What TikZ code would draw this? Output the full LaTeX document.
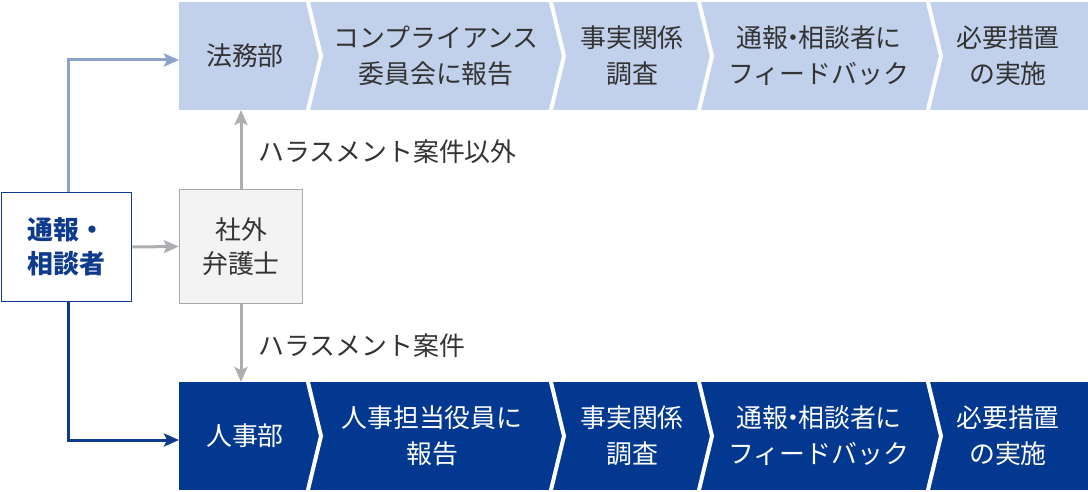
\documentclass[tikz,border=0pt]{standalone}
\usepackage{fontspec}
\setmainfont{Noto Sans CJK JP}
\usetikzlibrary{arrows.meta}
\definecolor{lightrow}{HTML}{C2D1EB}
\definecolor{darkrow}{HTML}{02388F}
\definecolor{lbline}{HTML}{8CA3CC}
\definecolor{grayline}{HTML}{AEAEB2}
\definecolor{txt}{HTML}{333333}
\definecolor{callerblue}{HTML}{0E3B8E}
\definecolor{lawyerfill}{HTML}{F3F3F3}
\definecolor{lawyerdraw}{HTML}{A9A9A9}
\newcommand{\narrowdot}{\kern-0.3em・\kern-0.3em}
\begin{document}
\begin{tikzpicture}[x=1bp,y=-1bp,
  lbl/.style={font=\fontsize{26}{36}\selectfont, align=center, inner sep=0pt},
  toptxt/.style={lbl, text=txt},
  bottxt/.style={lbl, text=white},
  sep/.style={white, line width=4bp, miter limit=20},
  tip/.style={-{Stealth[length=15bp,width=13bp,inset=3bp]}},
  grayarrow/.style={tip, draw=grayline, line width=3bp},
  lbarrow/.style={tip, draw=lbline, line width=3bp},
  dbarrow/.style={tip, draw=callerblue, line width=3bp},
]
\useasboundingbox (0,0) rectangle (1088,492);
% rows
\fill[lightrow] (179,2) rectangle (1088,110);
\fill[darkrow] (179,382) rectangle (1088,490);
\foreach \s in {307,550,698,927}{
  \draw[sep] (\s,-2) -- (\s+14,56) -- (\s,114);
  \draw[sep] (\s,378) -- (\s+14,436) -- (\s,494);
}
% top row texts
\node[toptxt] (legal) at (245,56) {法務部};
\node[toptxt] (compl) at (436,56) {コンプライアンス\\委員会に報告};
\node[toptxt] (invtop) at (632,56) {事実関係\\調査};
\node[toptxt] (fbtop) at (819,56) {通報\narrowdot 相談者に\\フィードバック};
\node[toptxt] (meastop) at (1008,56) {必要措置\\の実施};
% bottom row texts
\node[bottxt] (hr) at (245,436) {人事部};
\node[bottxt] (hrexec) at (432,436) {人事担当役員に\\報告};
\node[bottxt] (invbot) at (632,436) {事実関係\\調査};
\node[bottxt] (fbbot) at (819,436) {通報\narrowdot 相談者に\\フィードバック};
\node[bottxt] (measbot) at (1008,436) {必要措置\\の実施};
% boxes
\node[draw=callerblue, line width=1.8bp, fill=white, minimum width=130bp, minimum height=109bp,
      inner sep=0pt, align=center, text=callerblue, font=\fontsize{26}{34}\bfseries\selectfont]
      (caller) at (66.5,247) {通報・\\相談者};
\node[draw=lawyerdraw, line width=1.5bp, fill=lawyerfill, minimum width=123bp, minimum height=114bp,
      inner sep=0pt, align=center, text=txt, font=\fontsize{26}{34}\selectfont]
      (lawyer) at (241,246.5) {社外\\弁護士};
% connector end points
\coordinate (legalin) at (179,60);
\coordinate (hrin) at (179,440);
\coordinate (topbottom) at (241,110);
\coordinate (bottop) at (241,382);
% connectors
\draw[lbarrow] ([xshift=1.5bp]caller.north) |- (legalin);
\draw[dbarrow] ([xshift=1.5bp]caller.south) |- (hrin);
\draw[grayarrow] (caller.east) -- (lawyer.west);
\draw[grayarrow] (lawyer.north) -- (topbottom);
\draw[grayarrow] (lawyer.south) -- (bottop);
% labels
\node[toptxt, anchor=west] (lblother) at (258,152) {ハラスメント案件以外};
\node[toptxt, anchor=west] (lblharass) at (258,346) {ハラスメント案件};
\end{tikzpicture}
\end{document}
